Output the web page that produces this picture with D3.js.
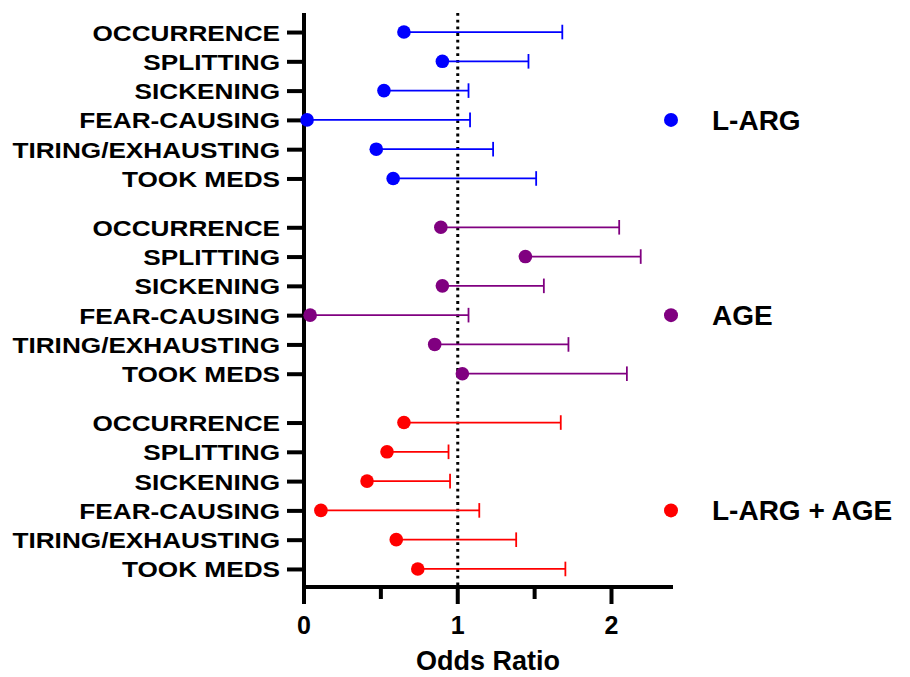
<!DOCTYPE html>
<html>
<head>
<meta charset="utf-8">
<script src="https://cdn.jsdelivr.net/npm/d3@7"></script>
<style>
  body { margin: 0; background: #fff; }
  svg { font-family: "Liberation Sans", Arial, sans-serif; font-weight: bold; }
</style>
</head>
<body>
<div id="chart"></div>
<script>
// rows inside each group, top to bottom
const outcomes = ["OCCURRENCE", "SPLITTING", "SICKENING", "FEAR-CAUSING", "TIRING/EXHAUSTING", "TOOK MEDS"];
const groups = ["L-ARG", "AGE", "L-ARG + AGE"];
const colors = ["#0000ff", "#800080", "#ff0000"];

// odds ratio (dot) and upper CI (whisker end) per group
const largOR = [0.65, 0.90, 0.52, 0.02, 0.47, 0.58];
const largUpper = [1.68, 1.46, 1.07, 1.08, 1.23, 1.51];
const ageOR = [0.89, 1.44, 0.90, 0.04, 0.85, 1.03];
const ageUpper = [2.05, 2.19, 1.56, 1.07, 1.72, 2.10];
const bothOR = [0.65, 0.54, 0.41, 0.11, 0.60, 0.74];
const bothUpper = [1.67, 0.94, 0.95, 1.14, 1.38, 1.70];

const xTicks = [0, 1, 2];
const xMinorTicks = [0.5, 1.5];

const width = 910, height = 677;
const groupStep = 6.667;

const svg = d3.select("#chart").append("svg")
  .attr("width", width).attr("height", height);

const x = d3.scaleLinear().domain([0, 2.4]).range([304, 673]);
const y = d3.scaleLinear().domain([-0.65, 18.95]).range([13, 587]);

const series = [
  { name: groups[0], color: colors[0], or: largOR, up: largUpper },
  { name: groups[1], color: colors[1], or: ageOR, up: ageUpper },
  { name: groups[2], color: colors[2], or: bothOR, up: bothUpper }
];

let rows = [];
series.forEach(function (s, g) {
  outcomes.forEach(function (o, r) {
    rows.push({ label: o, pos: g * groupStep + r, or: s.or[r], up: s.up[r], color: s.color });
  });
});

// reference line at OR = 1
svg.append("line")
  .attr("x1", x(1)).attr("x2", x(1))
  .attr("y1", 13).attr("y2", 585)
  .attr("stroke", "#000").attr("stroke-width", 3)
  .attr("stroke-dasharray", "2.8,3.9");

// whiskers
const bars = svg.append("g");
bars.selectAll("line.ci")
  .data(rows).join("line")
  .attr("class", "ci")
  .attr("x1", d => x(d.or)).attr("x2", d => x(d.up))
  .attr("y1", d => y(d.pos)).attr("y2", d => y(d.pos))
  .attr("stroke", d => d.color).attr("stroke-width", 1.7);
bars.selectAll("line.cap")
  .data(rows).join("line")
  .attr("class", "cap")
  .attr("x1", d => x(d.up)).attr("x2", d => x(d.up))
  .attr("y1", d => y(d.pos) - 7.3).attr("y2", d => y(d.pos) + 7.3)
  .attr("stroke", d => d.color).attr("stroke-width", 1.8);

// x axis
const xAxis = svg.append("g").attr("transform", "translate(0,587)");
xAxis.append("line")
  .attr("x1", 302).attr("x2", 673)
  .attr("stroke", "#000").attr("stroke-width", 4);
xAxis.selectAll("line.major")
  .data(xTicks).join("line")
  .attr("class", "major")
  .attr("x1", d => x(d)).attr("x2", d => x(d))
  .attr("y1", 0).attr("y2", 17)
  .attr("stroke", "#000").attr("stroke-width", 4);
xAxis.selectAll("line.minor")
  .data(xMinorTicks).join("line")
  .attr("class", "minor")
  .attr("x1", d => x(d)).attr("x2", d => x(d))
  .attr("y1", 0).attr("y2", 12)
  .attr("stroke", "#000").attr("stroke-width", 4);
xAxis.selectAll("text")
  .data(xTicks).join("text")
  .attr("x", d => x(d)).attr("y", 47)
  .attr("text-anchor", "middle")
  .attr("font-size", 25)
  .text(d => d);

svg.append("text")
  .attr("x", 488).attr("y", 670)
  .attr("text-anchor", "middle")
  .attr("font-size", 27)
  .text("Odds Ratio");

// y axis
const yAxis = svg.append("g")
  .attr("transform", "translate(304,0)")
  .call(d3.axisLeft(y)
    .tickValues(rows.map(d => d.pos))
    .tickFormat((d, i) => rows[i].label)
    .tickSize(17)
    .tickSizeOuter(0));
yAxis.select(".domain").attr("stroke-width", 4).attr("d", "M0,13V589");
yAxis.selectAll(".tick line").attr("stroke-width", 4);
yAxis.selectAll(".tick text")
  .attr("x", 0).attr("dy", null).attr("y", 8)
  .attr("transform", "translate(-24,0) scale(1.19,1)")
  .attr("font-size", 22)
  .attr("font-family", "Liberation Sans, Arial, sans-serif")
  .attr("font-weight", "bold")
  .attr("fill", "#000");

// dots
svg.append("g").selectAll("circle")
  .data(rows).join("circle")
  .attr("cx", d => x(d.or)).attr("cy", d => y(d.pos))
  .attr("r", 6.8).attr("fill", d => d.color);

// legend, one entry beside each group
const legend = svg.append("g").selectAll("g")
  .data(series).join("g")
  .attr("transform", (d, g) => "translate(0," + y(g * groupStep + 3) + ")");
legend.append("circle")
  .attr("cx", 671).attr("cy", 0).attr("r", 7)
  .attr("fill", d => d.color);
legend.append("text")
  .attr("x", 712).attr("y", 10)
  .attr("font-size", 28)
  .text(d => d.name);
</script>
</body>
</html>
